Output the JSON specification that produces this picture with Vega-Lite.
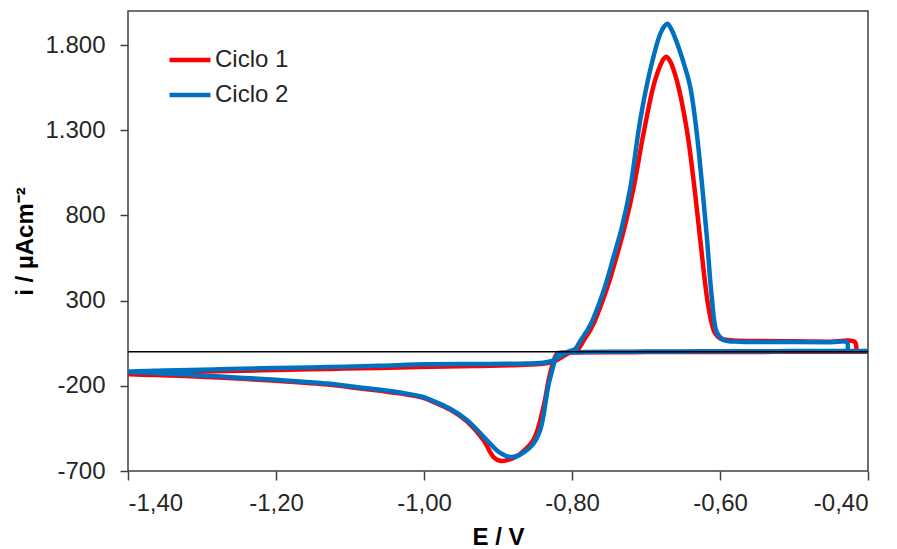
{
  "$schema": "https://vega.github.io/schema/vega-lite/v6.json",
  "width": 740,
  "height": 460,
  "autosize": {"type": "none"},
  "padding": {"left": 128, "top": 11, "right": 29, "bottom": 78},
  "background": "white",
  "config": {
    "view": {"stroke": "#404040", "strokeWidth": 1.5},
    "font": "Liberation Sans",
    "axis": {
      "grid": false,
      "domain": false,
      "tickColor": "#404040",
      "tickWidth": 1.5,
      "labelFont": "Liberation Sans",
      "labelFontSize": 24,
      "labelColor": "#262626",
      "titleFont": "Liberation Sans",
      "titleFontSize": 24,
      "titleFontWeight": "bold",
      "titleColor": "#000000"
    }
  },
  "layer": [
    {
      "data": {
        "values": [
          {"c": "Ciclo 1", "k": 1, "E": -0.40, "i": 0},
          {"c": "Ciclo 1", "k": 2, "E": -0.45, "i": 0},
          {"c": "Ciclo 1", "k": 3, "E": -0.50, "i": 0},
          {"c": "Ciclo 1", "k": 4, "E": -0.55, "i": -1},
          {"c": "Ciclo 1", "k": 5, "E": -0.60, "i": -1},
          {"c": "Ciclo 1", "k": 6, "E": -0.65, "i": -2},
          {"c": "Ciclo 1", "k": 7, "E": -0.70, "i": -2},
          {"c": "Ciclo 1", "k": 8, "E": -0.75, "i": -3},
          {"c": "Ciclo 1", "k": 9, "E": -0.78, "i": -3},
          {"c": "Ciclo 1", "k": 10, "E": -0.80, "i": -4},
          {"c": "Ciclo 1", "k": 11, "E": -0.812, "i": -6},
          {"c": "Ciclo 1", "k": 12, "E": -0.820, "i": -10},
          {"c": "Ciclo 1", "k": 13, "E": -0.8295, "i": -127},
          {"c": "Ciclo 1", "k": 14, "E": -0.8385, "i": -323},
          {"c": "Ciclo 1", "k": 15, "E": -0.8521, "i": -518},
          {"c": "Ciclo 1", "k": 16, "E": -0.870, "i": -600},
          {"c": "Ciclo 1", "k": 17, "E": -0.879, "i": -624},
          {"c": "Ciclo 1", "k": 18, "E": -0.888, "i": -637},
          {"c": "Ciclo 1", "k": 19, "E": -0.897, "i": -640},
          {"c": "Ciclo 1", "k": 20, "E": -0.9061, "i": -618},
          {"c": "Ciclo 1", "k": 21, "E": -0.9197, "i": -518},
          {"c": "Ciclo 1", "k": 22, "E": -0.9421, "i": -409},
          {"c": "Ciclo 1", "k": 23, "E": -0.9647, "i": -340},
          {"c": "Ciclo 1", "k": 24, "E": -0.9873, "i": -295},
          {"c": "Ciclo 1", "k": 25, "E": -1.00, "i": -272},
          {"c": "Ciclo 1", "k": 26, "E": -1.03, "i": -246},
          {"c": "Ciclo 1", "k": 27, "E": -1.062, "i": -228},
          {"c": "Ciclo 1", "k": 28, "E": -1.10, "i": -208},
          {"c": "Ciclo 1", "k": 29, "E": -1.13, "i": -193},
          {"c": "Ciclo 1", "k": 30, "E": -1.20, "i": -171},
          {"c": "Ciclo 1", "k": 31, "E": -1.265, "i": -154},
          {"c": "Ciclo 1", "k": 32, "E": -1.33, "i": -141},
          {"c": "Ciclo 1", "k": 33, "E": -1.40, "i": -131},
          {"c": "Ciclo 1", "k": 34, "E": -1.35, "i": -122},
          {"c": "Ciclo 1", "k": 35, "E": -1.30, "i": -116},
          {"c": "Ciclo 1", "k": 36, "E": -1.265, "i": -113},
          {"c": "Ciclo 1", "k": 37, "E": -1.20, "i": -107},
          {"c": "Ciclo 1", "k": 38, "E": -1.13, "i": -101},
          {"c": "Ciclo 1", "k": 39, "E": -1.06, "i": -95},
          {"c": "Ciclo 1", "k": 40, "E": -0.994, "i": -88},
          {"c": "Ciclo 1", "k": 41, "E": -0.93, "i": -83},
          {"c": "Ciclo 1", "k": 42, "E": -0.87, "i": -78},
          {"c": "Ciclo 1", "k": 43, "E": -0.839, "i": -71},
          {"c": "Ciclo 1", "k": 44, "E": -0.826, "i": -60},
          {"c": "Ciclo 1", "k": 45, "E": -0.815, "i": -35},
          {"c": "Ciclo 1", "k": 46, "E": -0.8038, "i": -7},
          {"c": "Ciclo 1", "k": 47, "E": -0.7917, "i": 16},
          {"c": "Ciclo 1", "k": 48, "E": -0.785, "i": 60},
          {"c": "Ciclo 1", "k": 49, "E": -0.7714, "i": 160},
          {"c": "Ciclo 1", "k": 50, "E": -0.7578, "i": 310},
          {"c": "Ciclo 1", "k": 51, "E": -0.7484, "i": 430},
          {"c": "Ciclo 1", "k": 52, "E": -0.7403, "i": 550},
          {"c": "Ciclo 1", "k": 53, "E": -0.7281, "i": 745},
          {"c": "Ciclo 1", "k": 54, "E": -0.7169, "i": 960},
          {"c": "Ciclo 1", "k": 55, "E": -0.7034, "i": 1280},
          {"c": "Ciclo 1", "k": 56, "E": -0.6899, "i": 1560},
          {"c": "Ciclo 1", "k": 57, "E": -0.6808, "i": 1680},
          {"c": "Ciclo 1", "k": 58, "E": -0.6760, "i": 1720},
          {"c": "Ciclo 1", "k": 59, "E": -0.6727, "i": 1732},
          {"c": "Ciclo 1", "k": 60, "E": -0.6673, "i": 1705},
          {"c": "Ciclo 1", "k": 61, "E": -0.6582, "i": 1590},
          {"c": "Ciclo 1", "k": 62, "E": -0.6447, "i": 1300},
          {"c": "Ciclo 1", "k": 63, "E": -0.6334, "i": 920},
          {"c": "Ciclo 1", "k": 64, "E": -0.6222, "i": 480},
          {"c": "Ciclo 1", "k": 65, "E": -0.6155, "i": 260},
          {"c": "Ciclo 1", "k": 66, "E": -0.6070, "i": 110},
          {"c": "Ciclo 1", "k": 67, "E": -0.5997, "i": 78},
          {"c": "Ciclo 1", "k": 68, "E": -0.5862, "i": 67},
          {"c": "Ciclo 1", "k": 69, "E": -0.55, "i": 63},
          {"c": "Ciclo 1", "k": 70, "E": -0.50, "i": 61},
          {"c": "Ciclo 1", "k": 71, "E": -0.45, "i": 59},
          {"c": "Ciclo 1", "k": 72, "E": -0.418, "i": 58},
          {"c": "Ciclo 1", "k": 73, "E": -0.416, "i": 0},
          {"c": "Ciclo 2", "k": 101, "E": -0.40, "i": 4},
          {"c": "Ciclo 2", "k": 102, "E": -0.45, "i": 4},
          {"c": "Ciclo 2", "k": 103, "E": -0.50, "i": 4},
          {"c": "Ciclo 2", "k": 104, "E": -0.55, "i": 3},
          {"c": "Ciclo 2", "k": 105, "E": -0.60, "i": 3},
          {"c": "Ciclo 2", "k": 106, "E": -0.65, "i": 2},
          {"c": "Ciclo 2", "k": 107, "E": -0.70, "i": 1},
          {"c": "Ciclo 2", "k": 108, "E": -0.75, "i": 0},
          {"c": "Ciclo 2", "k": 109, "E": -0.78, "i": -1},
          {"c": "Ciclo 2", "k": 110, "E": -0.80, "i": -3},
          {"c": "Ciclo 2", "k": 111, "E": -0.812, "i": -6},
          {"c": "Ciclo 2", "k": 112, "E": -0.8187, "i": -12},
          {"c": "Ciclo 2", "k": 113, "E": -0.8227, "i": -45},
          {"c": "Ciclo 2", "k": 114, "E": -0.8265, "i": -105},
          {"c": "Ciclo 2", "k": 115, "E": -0.8318, "i": -195},
          {"c": "Ciclo 2", "k": 116, "E": -0.8386, "i": -375},
          {"c": "Ciclo 2", "k": 117, "E": -0.843, "i": -459},
          {"c": "Ciclo 2", "k": 118, "E": -0.8521, "i": -540},
          {"c": "Ciclo 2", "k": 119, "E": -0.8656, "i": -592},
          {"c": "Ciclo 2", "k": 120, "E": -0.8745, "i": -612},
          {"c": "Ciclo 2", "k": 121, "E": -0.8836, "i": -618},
          {"c": "Ciclo 2", "k": 122, "E": -0.8971, "i": -594},
          {"c": "Ciclo 2", "k": 123, "E": -0.9061, "i": -560},
          {"c": "Ciclo 2", "k": 124, "E": -0.9197, "i": -498},
          {"c": "Ciclo 2", "k": 125, "E": -0.9421, "i": -400},
          {"c": "Ciclo 2", "k": 126, "E": -0.9647, "i": -335},
          {"c": "Ciclo 2", "k": 127, "E": -0.9873, "i": -290},
          {"c": "Ciclo 2", "k": 128, "E": -1.00, "i": -267},
          {"c": "Ciclo 2", "k": 129, "E": -1.03, "i": -241},
          {"c": "Ciclo 2", "k": 130, "E": -1.062, "i": -222},
          {"c": "Ciclo 2", "k": 131, "E": -1.10, "i": -203},
          {"c": "Ciclo 2", "k": 132, "E": -1.13, "i": -187},
          {"c": "Ciclo 2", "k": 133, "E": -1.20, "i": -165},
          {"c": "Ciclo 2", "k": 134, "E": -1.265, "i": -148},
          {"c": "Ciclo 2", "k": 135, "E": -1.33, "i": -132},
          {"c": "Ciclo 2", "k": 136, "E": -1.40, "i": -117},
          {"c": "Ciclo 2", "k": 137, "E": -1.35, "i": -110},
          {"c": "Ciclo 2", "k": 138, "E": -1.30, "i": -106},
          {"c": "Ciclo 2", "k": 139, "E": -1.265, "i": -101},
          {"c": "Ciclo 2", "k": 140, "E": -1.20, "i": -96},
          {"c": "Ciclo 2", "k": 141, "E": -1.13, "i": -90},
          {"c": "Ciclo 2", "k": 142, "E": -1.06, "i": -82},
          {"c": "Ciclo 2", "k": 143, "E": -0.994, "i": -74},
          {"c": "Ciclo 2", "k": 144, "E": -0.93, "i": -72},
          {"c": "Ciclo 2", "k": 145, "E": -0.87, "i": -70},
          {"c": "Ciclo 2", "k": 146, "E": -0.839, "i": -64},
          {"c": "Ciclo 2", "k": 147, "E": -0.826, "i": -52},
          {"c": "Ciclo 2", "k": 148, "E": -0.815, "i": -24},
          {"c": "Ciclo 2", "k": 149, "E": -0.8065, "i": -2},
          {"c": "Ciclo 2", "k": 150, "E": -0.7957, "i": 16},
          {"c": "Ciclo 2", "k": 151, "E": -0.789, "i": 62},
          {"c": "Ciclo 2", "k": 152, "E": -0.7754, "i": 155},
          {"c": "Ciclo 2", "k": 153, "E": -0.7619, "i": 300},
          {"c": "Ciclo 2", "k": 154, "E": -0.7524, "i": 425},
          {"c": "Ciclo 2", "k": 155, "E": -0.7443, "i": 550},
          {"c": "Ciclo 2", "k": 156, "E": -0.7326, "i": 730},
          {"c": "Ciclo 2", "k": 157, "E": -0.7213, "i": 960},
          {"c": "Ciclo 2", "k": 158, "E": -0.7078, "i": 1360},
          {"c": "Ciclo 2", "k": 159, "E": -0.6943, "i": 1654},
          {"c": "Ciclo 2", "k": 160, "E": -0.6808, "i": 1865},
          {"c": "Ciclo 2", "k": 161, "E": -0.6750, "i": 1912},
          {"c": "Ciclo 2", "k": 162, "E": -0.6709, "i": 1925},
          {"c": "Ciclo 2", "k": 163, "E": -0.6660, "i": 1895},
          {"c": "Ciclo 2", "k": 164, "E": -0.6600, "i": 1835},
          {"c": "Ciclo 2", "k": 165, "E": -0.6520, "i": 1735},
          {"c": "Ciclo 2", "k": 166, "E": -0.6405, "i": 1560},
          {"c": "Ciclo 2", "k": 167, "E": -0.6314, "i": 1284},
          {"c": "Ciclo 2", "k": 168, "E": -0.6245, "i": 990},
          {"c": "Ciclo 2", "k": 169, "E": -0.6179, "i": 680},
          {"c": "Ciclo 2", "k": 170, "E": -0.6111, "i": 320},
          {"c": "Ciclo 2", "k": 171, "E": -0.6044, "i": 115},
          {"c": "Ciclo 2", "k": 172, "E": -0.5952, "i": 69},
          {"c": "Ciclo 2", "k": 173, "E": -0.5726, "i": 59},
          {"c": "Ciclo 2", "k": 174, "E": -0.50, "i": 57},
          {"c": "Ciclo 2", "k": 175, "E": -0.45, "i": 56},
          {"c": "Ciclo 2", "k": 176, "E": -0.4284, "i": 55},
          {"c": "Ciclo 2", "k": 177, "E": -0.428, "i": 3}
        ]
      },
      "mark": {"type": "line", "strokeWidth": 4.5, "interpolate": "catmull-rom", "strokeJoin": "round", "strokeCap": "round", "clip": true},
      "encoding": {
        "x": {
          "field": "E", "type": "quantitative",
          "scale": {"domain": [-1.4, -0.4], "nice": false, "zero": false},
          "axis": {
            "title": "E / V",
            "values": [-1.4, -1.2, -1.0, -0.8, -0.6, -0.4],
            "tickSize": 9,
            "labelPadding": 11,
            "titlePadding": 10,
            "labelExpr": "replace(replace(format(datum.value, '.2f'), '.', ','), '\u2212', '-')"
          }
        },
        "y": {
          "field": "i", "type": "quantitative",
          "scale": {"domain": [-700, 2000], "nice": false, "zero": false},
          "axis": {
            "title": "i / µAcm⁻²",
            "values": [-700, -200, 300, 800, 1300, 1800],
            "tickSize": 8,
            "labelPadding": 15,
            "titlePadding": 7,
            "labelExpr": "replace(replace(format(datum.value, ','), ',', '.'), '\u2212', '-')"
          }
        },
        "order": {"field": "k", "type": "quantitative"},
        "color": {
          "field": "c", "type": "nominal",
          "scale": {"domain": ["Ciclo 1", "Ciclo 2"], "range": ["#FF0000", "#0070C0"]},
          "legend": {
            "title": null,
            "orient": "none",
            "legendX": 39,
            "legendY": 26,
            "padding": 0,
            "symbolType": "stroke",
            "symbolSize": 1681,
            "symbolStrokeWidth": 4.5,
            "labelFont": "Liberation Sans",
            "labelFontSize": 24,
            "labelColor": "#262626",
            "labelOffset": 2,
            "rowPadding": 0
          }
        }
      }
    },
    {
      "data": {"values": [{"z": 0}]},
      "mark": {"type": "rule", "color": "#000000", "strokeWidth": 1.5},
      "encoding": {"y": {"field": "z", "type": "quantitative"}}
    }
  ]
}
